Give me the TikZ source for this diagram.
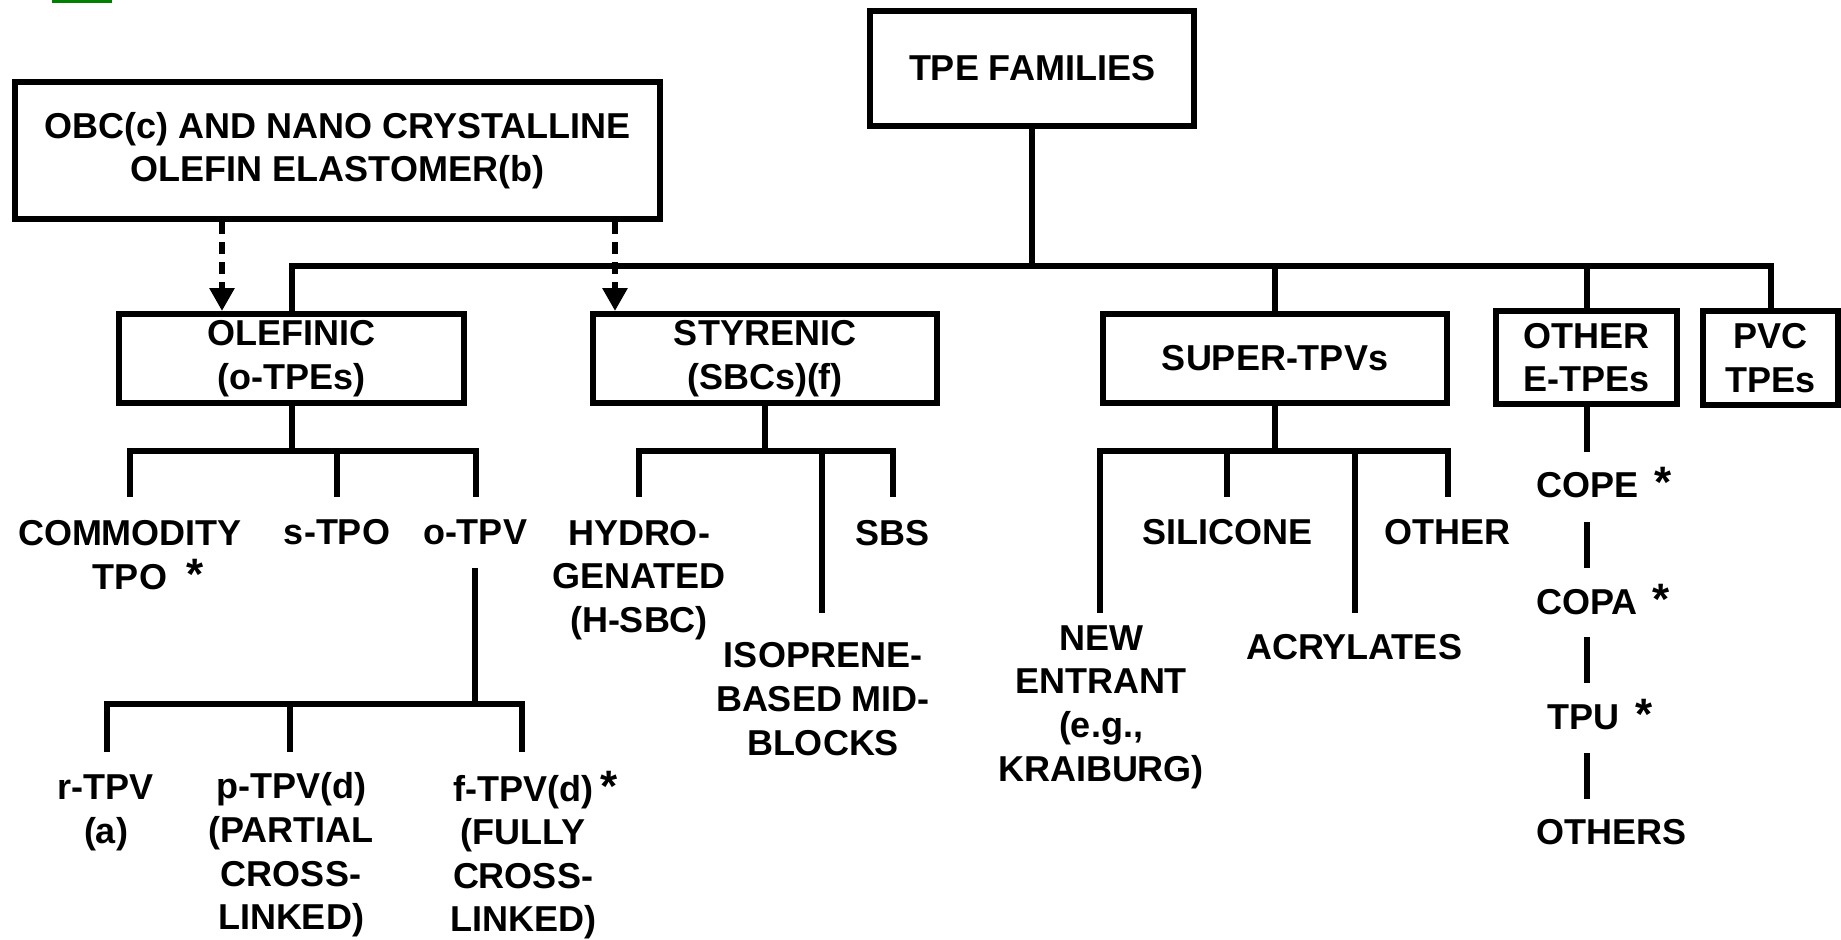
\documentclass[tikz,border=0pt]{standalone}
\usepackage{fontspec}
\setmainfont{Liberation Sans}
\usetikzlibrary{arrows.meta}
\newcommand{\bigstar}{{\fontsize{22}{22}\selectfont *}}
\begin{document}
\begin{tikzpicture}[x=0.5pt,y=-0.5pt,
  every node/.style={font=\fontsize{18}{21.8}\selectfont\bfseries, inner sep=0pt, align=center},
  box/.style={draw, line width=3pt},
  ln/.style={line width=3pt, line join=miter},
  dashedarrow/.style={line width=3pt, dash pattern=on 6pt off 4pt, -{Triangle[width=12pt,length=11.5pt]}}]
\useasboundingbox (0,0) rectangle (1841,939);
\fill[green!50!black] (52,0) rectangle (112,3);

% boxes
\node[box, minimum width=324*0.5pt, minimum height=115*0.5pt] (tpe) at (1032,68.5) {TPE FAMILIES};
\node[box, minimum width=645*0.5pt, minimum height=137*0.5pt] (obc) at (337.5,150.5) {OBC(c) AND NANO CRYSTALLINE\\OLEFIN ELASTOMER(b)};
\node[box, minimum width=345*0.5pt, minimum height=89*0.5pt] (olef) at (291.5,358.5) {OLEFINIC\\(o-TPEs)};
\node[box, minimum width=344*0.5pt, minimum height=89*0.5pt] (styr) at (765,358.5) {STYRENIC\\(SBCs)(f)};
\node[box, minimum width=344*0.5pt, minimum height=89*0.5pt] (super) at (1275,358.5) {SUPER-TPVs};
\node[box, minimum width=181*0.5pt, minimum height=93*0.5pt] (other) at (1586.5,357.5) {OTHER\\E-TPEs};
\node[box, minimum width=135*0.5pt, minimum height=94*0.5pt] (pvc) at (1770.5,358) {PVC\\TPEs};

% labels
\node (commodity) at (130,555) {COMMODITY\\TPO\rlap{\hspace{0.55em}\bigstar}};
\node (stpo) at (337,532) {s-TPO};
\node (otpv) at (475,532) {o-TPV};
\node (rtpv) at (106,813) {r-TPV\\(a)};
\node (ptpv) at (291,855) {p-TPV(d)\\(PARTIAL\\CROSS-\\LINKED)};
\node (ftpv) at (523,855) {f-TPV(d)\rlap{\hspace{0.2em}\bigstar}\\(FULLY\\CROSS-\\LINKED)};
\node (hydro) at (639,580) {HYDRO-\\GENATED\\(H-SBC)};
\node (sbs) at (892,533) {SBS};
\node (iso) at (823,699) {ISOPRENE-\\BASED MID-\\BLOCKS};
\node (silicone) at (1227,532) {SILICONE};
\node (othersup) at (1447,532) {OTHER};
\node (newent) at (1101,707) {NEW\\ENTRANT\\(e.g.,\\KRAIBURG)};
\node (acryl) at (1354,647) {ACRYLATES};
\node (cope) at (1587,483) {COPE\rlap{\hspace{0.45em}\bigstar}};
\node (copa) at (1587,600) {COPA\rlap{\hspace{0.4em}\bigstar}};
\node (tpu) at (1583,715) {TPU\rlap{\hspace{0.45em}\bigstar}};
\node (others) at (1611,832) {OTHERS};

% helper coordinates
\coordinate (bus) at (0,266);
\coordinate (ob) at (0,451);
\coordinate (lb) at (0,704);
\coordinate (d1) at (222,0);
\coordinate (d2) at (615,0);

% main tree
\draw[ln] (tpe.south) -- (tpe.south |- bus);
\draw[ln] (olef.north) -- (olef.north |- bus) -- (pvc.north |- bus) -- (pvc.north);
\draw[ln] (super.north) -- (super.north |- bus);
\draw[ln] (other.north) -- (other.north |- bus);

% dashed arrows
\draw[dashedarrow] (obc.south -| d1) -- (olef.north -| d1);
\draw[dashedarrow] (obc.south -| d2) -- (styr.north -| d2);

% olefinic subtree
\coordinate (oc1) at (130,497);
\coordinate (oc2) at (337,497);
\coordinate (oc3) at (476,497);
\draw[ln] (olef.south) -- (olef.south |- ob);
\draw[ln] (oc1) -- (oc1 |- ob) -- (oc3 |- ob) -- (oc3);
\draw[ln] (oc2 |- ob) -- (oc2);
\coordinate (ot1) at (475,568);
\draw[ln] (ot1) -- (ot1 |- lb);
\coordinate (lc1) at (107,752);
\coordinate (lc2) at (290,752);
\coordinate (lc3) at (522,752);
\draw[ln] (lc1) -- (lc1 |- lb) -- (lc3 |- lb) -- (lc3);
\draw[ln] (lc2 |- lb) -- (lc2);

% styrenic subtree
\coordinate (sc1) at (639,497);
\coordinate (sc2) at (822,613);
\coordinate (sc3) at (893,497);
\draw[ln] (styr.south) -- (styr.south |- ob);
\draw[ln] (sc1) -- (sc1 |- ob) -- (sc3 |- ob) -- (sc3);
\draw[ln] (sc2 |- ob) -- (sc2);

% super-TPV subtree
\coordinate (pc1) at (1100,613);
\coordinate (pc2) at (1227,497);
\coordinate (pc3) at (1355,613);
\coordinate (pc4) at (1448,497);
\draw[ln] (super.south) -- (super.south |- ob);
\draw[ln] (pc1) -- (pc1 |- ob) -- (pc4 |- ob) -- (pc4);
\draw[ln] (pc2 |- ob) -- (pc2);
\draw[ln] (pc3 |- ob) -- (pc3);

% other E-TPEs column
\coordinate (e1) at (1586.5,452);
\coordinate (e2) at (1586.5,522);
\coordinate (e3) at (1586.5,568);
\coordinate (e4) at (1586.5,637);
\coordinate (e5) at (1586.5,683);
\coordinate (e6) at (1586.5,753);
\coordinate (e7) at (1586.5,799);
\draw[ln] (other.south) -- (e1);
\draw[ln] (e2) -- (e3);
\draw[ln] (e4) -- (e5);
\draw[ln] (e6) -- (e7);
\end{tikzpicture}
\end{document}
